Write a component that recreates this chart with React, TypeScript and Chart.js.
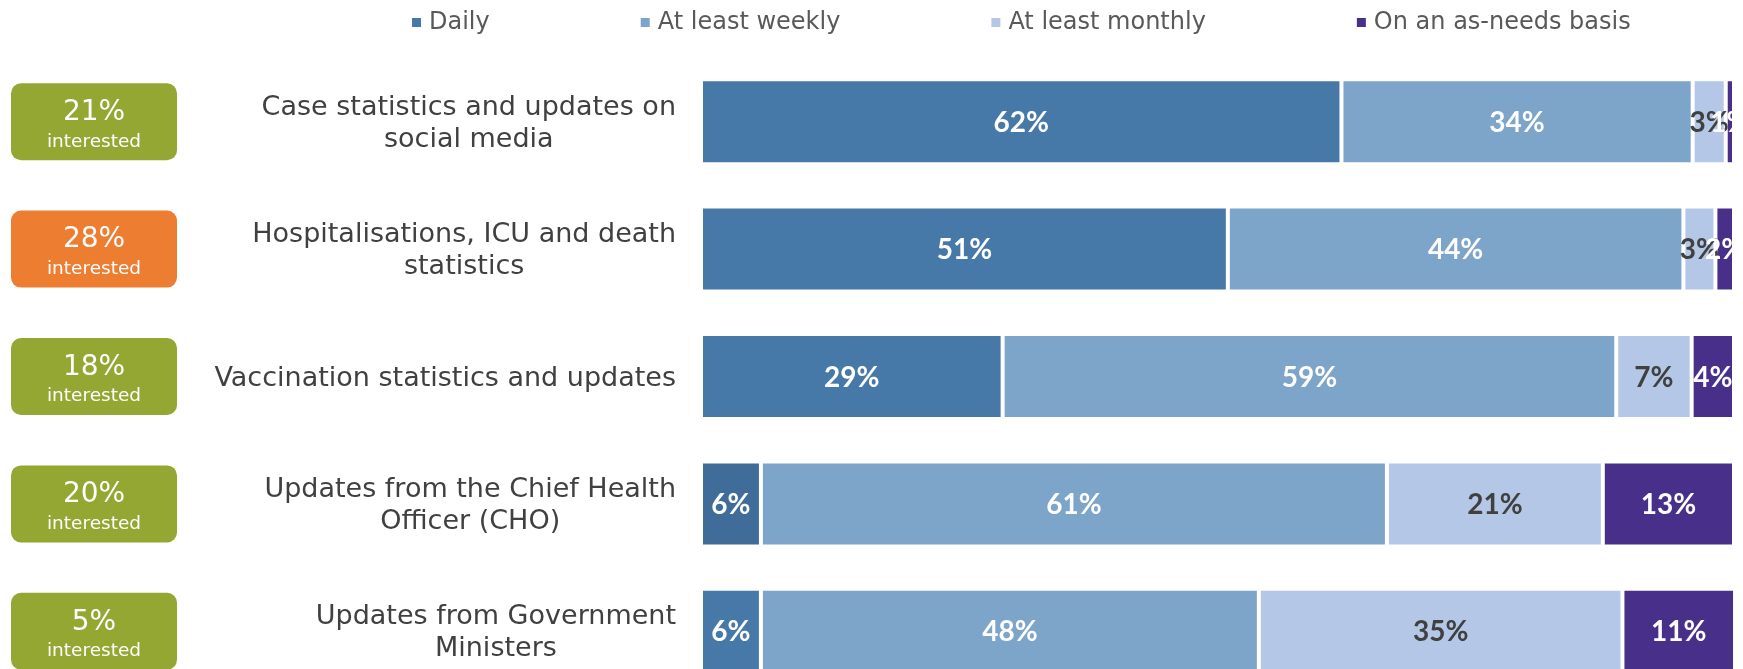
import React, { useEffect, useRef } from "react";
import { Chart, registerables } from "chart.js";

Chart.register(...registerables);

// ---- data ----
const categories: string[][] = [
  ["Case statistics and updates on", "social media"],
  ["Hospitalisations, ICU and death", "statistics"],
  ["Vaccination statistics and updates"],
  ["Updates from the Chief Health", "Officer (CHO)"],
  ["Updates from Government", "Ministers"],
];
const seriesNames = ["Daily", "At least weekly", "At least monthly", "On an as-needs basis"];
const daily = [62.0, 51.0, 29.2, 5.8, 5.8];
const weekly = [34.0, 44.1, 59.4, 60.6, 48.2];
const monthly = [3.2, 3.1, 7.3, 20.9, 35.2];
const asNeeded = [0.8, 1.8, 4.1, 12.7, 10.9];
const interested = [21, 28, 18, 20, 5];
const interestedLabel = "interested";

// ---- styles ----
const dailyColors = ["#4779A8", "#4779A8", "#4779A8", "#3F6C99", "#4779A8"];
const seriesColors = ["#4779A8", "#7DA4C9", "#B4C7E6", "#48308A"];
const valueTextColors = ["#FFFFFF", "#FFFFFF", "#404040", "#FFFFFF"];
const badgeColors = ["#93A732", "#ED7D31", "#93A732", "#93A732", "#93A732"];
const LABEL_FONT = "DejaVu Sans";

const decorPlugin = {
  id: "decor",
  afterDatasetsDraw(chart: any) {
    const ctx: CanvasRenderingContext2D = chart.ctx;
    // value labels
    chart.data.datasets.forEach((ds: any, di: number) => {
      const meta = chart.getDatasetMeta(di);
      meta.data.forEach((el: any, i: number) => {
        const v = ds.data[i] as number;
        const p = el.getProps(["x", "base", "y"], true);
        ctx.save();
        ctx.font = "bold 28px Lato";
        ctx.fillStyle = valueTextColors[di];
        ctx.textAlign = "center";
        ctx.textBaseline = "middle";
        ctx.fillText(Math.round(v) + "%", (p.x + p.base) / 2, p.y + 1);
        ctx.restore();
      });
    });

    const yScale = chart.scales.y;
    const labelRight = 676;
    categories.forEach((lines, i) => {
      const cy = yScale.getPixelForValue(i);
      // category label
      ctx.save();
      ctx.font = `27px "${LABEL_FONT}"`;
      ctx.fillStyle = "#404040";
      ctx.textAlign = "center";
      ctx.textBaseline = "middle";
      const w0 = ctx.measureText(lines[0]).width;
      const cx = labelRight - w0 / 2;
      const lh = 32;
      lines.forEach((ln, j) => {
        ctx.fillText(ln, cx, cy + 2 + (j - (lines.length - 1) / 2) * lh);
      });
      ctx.restore();

      // badge
      ctx.save();
      ctx.fillStyle = badgeColors[i];
      ctx.beginPath();
      (ctx as any).roundRect(11, cy - 38.5, 166, 77, 10);
      ctx.fill();
      ctx.fillStyle = "#FFFFFF";
      ctx.textAlign = "center";
      ctx.textBaseline = "middle";
      ctx.font = `28px "${LABEL_FONT}"`;
      ctx.fillText(interested[i] + "%", 94, cy - 9);
      ctx.font = `18.5px "${LABEL_FONT}"`;
      ctx.fillText(interestedLabel, 94, cy + 20);
      ctx.restore();
    });

    // legend
    ctx.save();
    ctx.font = `24px "${LABEL_FONT}"`;
    ctx.textBaseline = "middle";
    ctx.textAlign = "left";
    let x = 412;
    const gap = 151;
    chart.data.datasets.forEach((ds: any, di: number) => {
      ctx.fillStyle = seriesColors[di];
      ctx.fillRect(x, 18, 9, 9);
      ctx.fillStyle = "#595959";
      ctx.fillText(ds.label, x + 17, 23);
      x += 17 + ctx.measureText(ds.label).width + gap;
    });
    ctx.restore();
  },
};

export default function App() {
  const ref = useRef<HTMLCanvasElement | null>(null);
  useEffect(() => {
    if (!ref.current) return;
    const mk = (label: string, data: number[], color: any) => ({
      label,
      data,
      backgroundColor: color,
      borderColor: "#FFFFFF",
      borderWidth: 2,
      borderSkipped: false,
      barPercentage: 0.667,
      categoryPercentage: 1,
    });
    const chart = new Chart(ref.current, {
      type: "bar",
      data: {
        labels: categories.map((c) => c.join(" ")),
        datasets: [
          mk(seriesNames[0], daily, dailyColors),
          mk(seriesNames[1], weekly, seriesColors[1]),
          mk(seriesNames[2], monthly, seriesColors[2]),
          mk(seriesNames[3], asNeeded, seriesColors[3]),
        ],
      },
      options: {
        indexAxis: "y",
        responsive: false,
        animation: false,
        layout: { padding: { left: 701, right: 9, top: 58, bottom: 0 } },
        plugins: { legend: { display: false }, tooltip: { enabled: false } },
        scales: {
          x: { stacked: true, min: 0, max: 100, display: false },
          y: { stacked: true, display: false },
        },
      },
      plugins: [decorPlugin],
    } as any);
    return () => chart.destroy();
  }, []);
  return (
    <div
      style={{
        position: "absolute",
        left: 0,
        top: 0,
        width: 1743,
        height: 669,
        overflow: "hidden",
        background: "#FFFFFF",
      }}
    >
      <canvas ref={ref} width={1743} height={695} style={{ width: 1743, height: 695, display: "block" }} />
    </div>
  );
}
